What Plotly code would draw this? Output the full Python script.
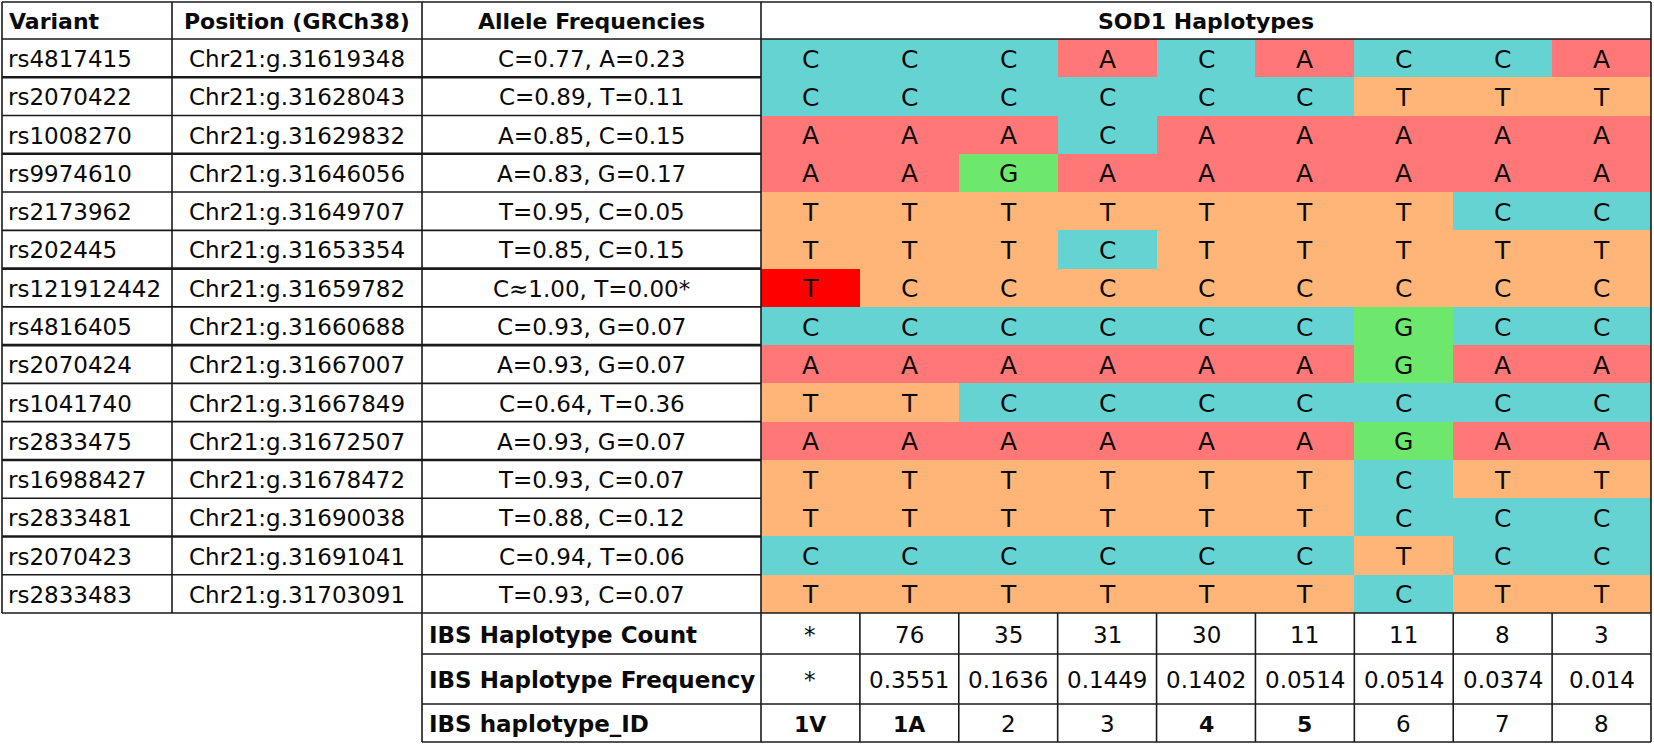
import plotly.graph_objects as go

# ---------------- data ----------------
variants = ["rs4817415", "rs2070422", "rs1008270", "rs9974610", "rs2173962",
            "rs202445", "rs121912442", "rs4816405", "rs2070424", "rs1041740",
            "rs2833475", "rs16988427", "rs2833481", "rs2070423", "rs2833483"]
positions = ["Chr21:g.31619348", "Chr21:g.31628043", "Chr21:g.31629832",
             "Chr21:g.31646056", "Chr21:g.31649707", "Chr21:g.31653354",
             "Chr21:g.31659782", "Chr21:g.31660688", "Chr21:g.31667007",
             "Chr21:g.31667849", "Chr21:g.31672507", "Chr21:g.31678472",
             "Chr21:g.31690038", "Chr21:g.31691041", "Chr21:g.31703091"]
allele_freqs = ["C=0.77, A=0.23", "C=0.89, T=0.11", "A=0.85, C=0.15",
                "A=0.83, G=0.17", "T=0.95, C=0.05", "T=0.85, C=0.15",
                "C\u22481.00, T=0.00*", "C=0.93, G=0.07", "A=0.93, G=0.07",
                "C=0.64, T=0.36", "A=0.93, G=0.07", "T=0.93, C=0.07",
                "T=0.88, C=0.12", "C=0.94, T=0.06", "T=0.93, C=0.07"]
haplotype_ids = ["1V", "1A", "2", "3", "4", "5", "6", "7", "8"]
haplotype_alleles = [
    ["C", "C", "C", "A", "C", "A", "C", "C", "A"],
    ["C", "C", "C", "C", "C", "C", "T", "T", "T"],
    ["A", "A", "A", "C", "A", "A", "A", "A", "A"],
    ["A", "A", "G", "A", "A", "A", "A", "A", "A"],
    ["T", "T", "T", "T", "T", "T", "T", "C", "C"],
    ["T", "T", "T", "C", "T", "T", "T", "T", "T"],
    ["T", "C", "C", "C", "C", "C", "C", "C", "C"],
    ["C", "C", "C", "C", "C", "C", "G", "C", "C"],
    ["A", "A", "A", "A", "A", "A", "G", "A", "A"],
    ["T", "T", "C", "C", "C", "C", "C", "C", "C"],
    ["A", "A", "A", "A", "A", "A", "G", "A", "A"],
    ["T", "T", "T", "T", "T", "T", "C", "T", "T"],
    ["T", "T", "T", "T", "T", "T", "C", "C", "C"],
    ["C", "C", "C", "C", "C", "C", "T", "C", "C"],
    ["T", "T", "T", "T", "T", "T", "C", "T", "T"],
]
# highlighted pathogenic allele, and the row shaded as its reference background
pathogenic_cell = ("rs121912442", "1V")
shade_row_as = {"rs121912442": "T"}
ibs_row_labels = ["IBS Haplotype Count", "IBS Haplotype Frequency", "IBS haplotype_ID"]
ibs_counts = ["*", "76", "35", "31", "30", "11", "11", "8", "3"]
ibs_freqs = ["*", "0.3551", "0.1636", "0.1449", "0.1402", "0.0514", "0.0514", "0.0374", "0.014"]
bold_ids = ["1V", "1A", "4", "5"]
headers = ["Variant", "Position (GRCh38)", "Allele Frequencies", "SOD1 Haplotypes"]

# ---------------- layout geometry (pixels) ----------------
W, H = 1654, 744
X0, X_VAR, X_POS, X_HAP, X_END = 2, 172, 422, 761, 1651
HAP_W = (X_END - X_HAP) / len(haplotype_ids)
hap_edges = [X_HAP + i * HAP_W for i in range(len(haplotype_ids) + 1)]
Y0, Y_HEAD = 2, 39
ROW_H = (613 - Y_HEAD) / len(variants)
row_edges = [Y_HEAD + i * ROW_H for i in range(len(variants) + 1)]
ibs_edges = [row_edges[-1], 654, 704, 742]

base_colors = {"A": "#FF7777", "C": "#66D3D3", "G": "#6DE86D", "T": "#FFB577"}
risk_color = "#FF0000"
code_of = {"A": 0, "C": 1, "G": 2, "T": 3}
colors = [base_colors["A"], base_colors["C"], base_colors["G"], base_colors["T"], risk_color]
cs = []
n = len(colors)
for i, c in enumerate(colors):
    cs.append([i / n, c])
    cs.append([(i + 1) / n, c])

FONT = "DejaVu Sans"
TXT = "#0a0a0a"
LINE = "#1a1a1a"
SZ = 23
SZ_B = 22
SZ_LAB = 23
SZ_HAP = 25

z = []
for r, v in enumerate(variants):
    zr = []
    for c, hid in enumerate(haplotype_ids):
        if (v, hid) == pathogenic_cell:
            zr.append(4)
        elif v in shade_row_as:
            zr.append(code_of[shade_row_as[v]])
        else:
            zr.append(code_of[haplotype_alleles[r][c]])
    z.append(zr)

fig = go.Figure()
fig.add_trace(go.Heatmap(
    z=z, x=hap_edges, y=row_edges, colorscale=cs, zmin=-0.5, zmax=4.5,
    showscale=False, hoverinfo="skip", xgap=0, ygap=0,
))

ann = []

def add_text(x, y, text, size=SZ, bold=False, xanchor="center"):
    ann.append(dict(x=x, y=y, xref="x", yref="y", text=f"<b>{text}</b>" if bold else text,
                    showarrow=False, xanchor=xanchor, yanchor="middle",
                    font=dict(family=FONT, size=size, color=TXT)))

# headers
hy = (Y0 + Y_HEAD) / 2 + 1
add_text(X0 + 5, hy, headers[0], size=SZ_B, bold=True, xanchor="left")
add_text((X_VAR + X_POS) / 2, hy, headers[1], size=SZ_B, bold=True)
add_text((X_POS + X_HAP) / 2, hy, headers[2], size=SZ_B, bold=True)
add_text((X_HAP + X_END) / 2, hy, headers[3], size=SZ_B, bold=True)

for r, v in enumerate(variants):
    yc = (row_edges[r] + row_edges[r + 1]) / 2 + 1
    add_text(X0 + 4, yc, v, xanchor="left")
    add_text((X_VAR + X_POS) / 2, yc, positions[r])
    add_text((X_POS + X_HAP) / 2, yc, allele_freqs[r])
    for c in range(len(haplotype_ids)):
        add_text((hap_edges[c] + hap_edges[c + 1]) / 2, yc, haplotype_alleles[r][c], size=SZ_HAP)

ibs_values = [ibs_counts, ibs_freqs, haplotype_ids]
for k, lab in enumerate(ibs_row_labels):
    yc = (ibs_edges[k] + ibs_edges[k + 1]) / 2 + 1
    add_text(X_POS + 5, yc, lab, size=SZ_LAB, bold=True, xanchor="left")
    for c, val in enumerate(ibs_values[k]):
        b = (k == 2 and val in bold_ids)
        add_text((hap_edges[c] + hap_edges[c + 1]) / 2, yc, val, size=SZ_B if b else SZ, bold=b)

# grid lines
shapes = []

def hline(y, x1, x2, w=1.6):
    shapes.append(dict(type="line", xref="x", yref="y", x0=x1, x1=x2, y0=y, y1=y,
                       line=dict(color=LINE, width=w)))

def vline(x, y1, y2, w=1.6):
    shapes.append(dict(type="line", xref="x", yref="y", x0=x, x1=x, y0=y1, y1=y2,
                       line=dict(color=LINE, width=w)))

thick_after = [1, 3, 6, 8, 11, 13]
hline(Y0, X0, X_END)
hline(Y_HEAD, X0, X_END)
for i in range(1, len(variants)):
    hline(row_edges[i], X0, X_HAP, 2.6 if i in thick_after else 1.6)
hline(row_edges[-1], X0, X_END)
for y in ibs_edges[1:]:
    hline(y, X_POS, X_END)
vline(X0, Y0, row_edges[-1])
vline(X_VAR, Y0, row_edges[-1])
vline(X_POS, Y0, ibs_edges[-1])
vline(X_HAP, Y0, ibs_edges[-1])
vline(X_END, Y0, ibs_edges[-1])
for xe in hap_edges[1:-1]:
    vline(xe, ibs_edges[0], ibs_edges[-1])

fig.update_layout(
    width=W, height=H, autosize=False,
    margin=dict(l=0, r=0, t=0, b=0, pad=0),
    paper_bgcolor="white", plot_bgcolor="white",
    xaxis=dict(range=[0, W], visible=False, fixedrange=True),
    yaxis=dict(range=[H, 0], visible=False, fixedrange=True),
    annotations=ann, shapes=shapes, showlegend=False,
)

fig.write_html("out.html", config={"displayModeBar": False},
               post_script="document.body.style.margin='0px';document.body.style.overflow='hidden';")
